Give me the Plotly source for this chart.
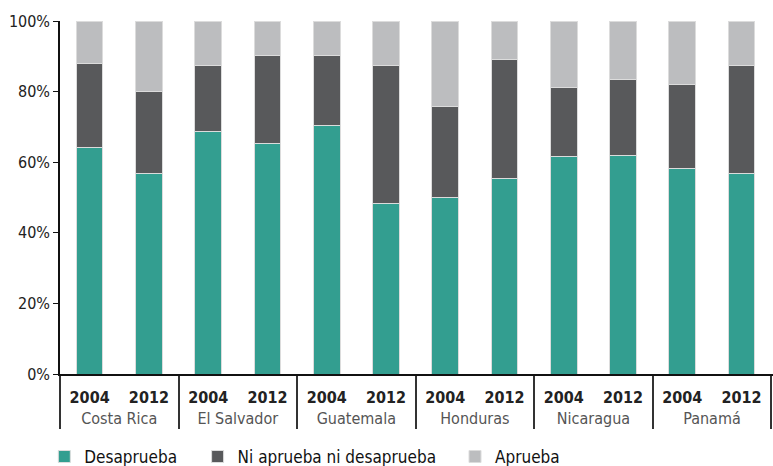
import plotly.graph_objects as go

countries = ["Costa Rica", "El Salvador", "Guatemala", "Honduras", "Nicaragua", "Panamá"]
years = ["2004", "2012"]

# shares in %, order: CR04, CR12, ES04, ES12, GU04, GU12, HO04, HO12, NI04, NI12, PA04, PA12
desaprueba = [64.3, 56.9, 68.8, 65.4, 70.3, 48.2, 50.1, 55.5, 61.5, 62.0, 58.1, 56.7]
ni_ni = [23.8, 23.0, 18.7, 24.7, 19.8, 39.1, 25.8, 33.5, 19.8, 21.3, 23.8, 30.6]
aprueba = [round(100 - a - b, 1) for a, b in zip(desaprueba, ni_ni)]

FONT = "DejaVu Sans Condensed, Liberation Sans Narrow, sans-serif"

x_country = ["<span style='font-size:16px'>%s</span>" % c for c in countries for _ in years]
x_year = ["<span style='font-size:16px;color:#222'><b>%s</b></span>" % y for _ in countries for y in years]
x = [x_country, x_year]

series = [
    ("Desaprueba", desaprueba, "#339e90", "legend"),
    ("Ni aprueba ni desaprueba", ni_ni, "#58595b", "legend2"),
    ("Aprueba", aprueba, "#bcbdbf", "legend3"),
]

fig = go.Figure()
for name, vals, color, leg in series:
    fig.add_trace(go.Bar(
        x=x, y=vals, name=name, legend=leg,
        marker=dict(color=color, line=dict(color="#dcdcdc", width=1)),
    ))

legend_common = dict(orientation="h", yanchor="middle", y=-0.235, xanchor="left",
                     font=dict(family=FONT, size=17, color="#111"),
                     bgcolor="rgba(0,0,0,0)", itemwidth=30)
fig.update_layout(
    barmode="stack",
    bargap=0.55,
    width=773, height=466,
    margin=dict(l=60, r=0, t=21, b=92, autoexpand=False),
    plot_bgcolor="white", paper_bgcolor="white",
    font=dict(family=FONT, size=16, color="#222"),
    legend=dict(legend_common, x=-0.022),
    legend2=dict(legend_common, x=0.193),
    legend3=dict(legend_common, x=0.554),
    showlegend=True,
)
fig.update_yaxes(
    range=[0, 100], dtick=20, ticksuffix="%",
    showgrid=False, zeroline=False,
    showline=True, linecolor="#111", linewidth=1.5,
    ticks="outside", ticklen=5, tickcolor="#111",
    tickfont=dict(family=FONT, size=16, color="#222"),
)
fig.update_xaxes(
    range=[-0.5, 11.53],
    showline=True, linecolor="#111", linewidth=1.5,
    ticks="", showdividers=True, dividercolor="#333", dividerwidth=1.5,
    tickfont=dict(family=FONT, size=23, color="#555"),
)

fig.write_html("out.html", config={"displayModeBar": False},
               post_script="document.body.style.margin='0';")
